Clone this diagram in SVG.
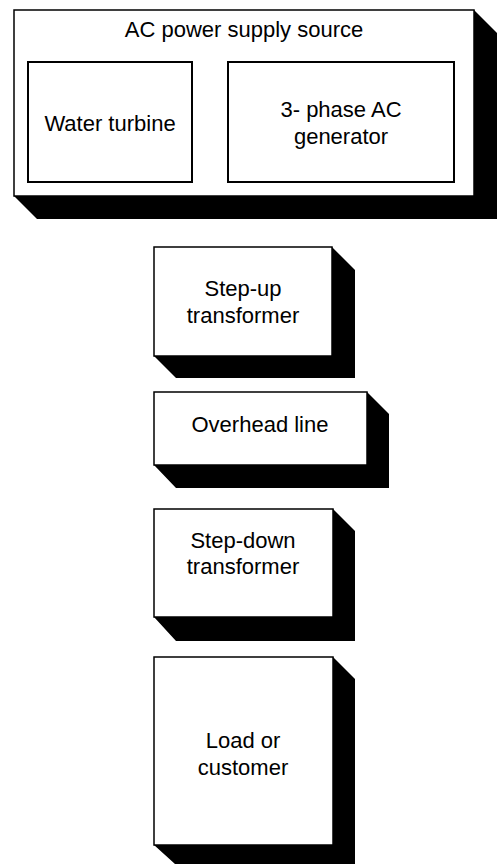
<svg xmlns="http://www.w3.org/2000/svg" width="498" height="864" viewBox="0 0 498 864">
<style>
.box{fill:#fff;stroke:#000;stroke-width:1.5}
.inner{fill:#fff;stroke:#000;stroke-width:2}
.sh{fill:#000;stroke:none}
.t{font-family:"Liberation Sans",Arial,sans-serif;font-size:22px;fill:#000;text-anchor:middle}
</style>
<rect width="498" height="864" fill="#fff"/>
<g id="ac-source">
<rect class="box" x="14" y="10" width="460" height="186"/>
<polygon class="sh" points="474,10 497,33 497,219 37,219 14,196 474,196"/>
<text class="t" x="244" y="37">AC power supply source</text>
<g id="water-turbine">
<rect class="inner" x="28" y="62" width="164" height="120"/>
<text class="t" x="110" y="131">Water turbine</text>
</g>
<g id="generator">
<rect class="inner" x="228" y="62" width="226" height="120"/>
<text class="t" x="341" y="117">3- phase AC</text>
<text class="t" x="341" y="144">generator</text>
</g>
</g>
<g id="step-up">
<rect class="box" x="154" y="247" width="178" height="109"/>
<polygon class="sh" points="332,247 355,270 355,378 176,378 154,356 332,356"/>
<text class="t" x="243" y="296">Step-up</text>
<text class="t" x="243" y="323">transformer</text>
</g>
<g id="overhead-line">
<rect class="box" x="154" y="392" width="213" height="73"/>
<polygon class="sh" points="367,392 389,414 389,488 176,488 154,465 367,465"/>
<text class="t" x="260" y="432">Overhead line</text>
</g>
<g id="step-down">
<rect class="box" x="154" y="509" width="179" height="108"/>
<polygon class="sh" points="333,509 355,531 355,641 176,641 154,617 333,617"/>
<text class="t" x="243" y="548">Step-down</text>
<text class="t" x="243" y="574">transformer</text>
</g>
<g id="load">
<rect class="box" x="154" y="657" width="179" height="188"/>
<polygon class="sh" points="333,657 355,679 355,864 175,864 154,845 333,845"/>
<text class="t" x="243" y="748">Load or</text>
<text class="t" x="243" y="775">customer</text>
</g>
</svg>
